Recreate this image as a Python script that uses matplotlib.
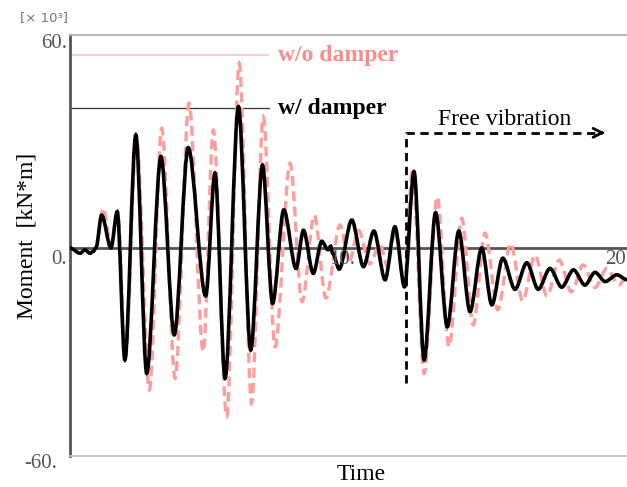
import matplotlib
matplotlib.use("Agg")
import matplotlib.pyplot as plt
from matplotlib.path import Path
from matplotlib.patches import PathPatch

# peaks / troughs (time, moment in 10^3 kN*m)
t_damper = [0, 0.37, 0.55, 0.73, 0.85, 0.95, 1.16, 1.50, 1.73, 2.01, 2.41, 2.81, 3.33, 3.82,
            4.33, 4.97, 5.31, 5.68, 6.17, 6.62, 7.05, 7.42, 7.83, 8.28, 8.55, 8.91, 9.22,
            9.45, 9.55, 9.62, 9.86, 10.32, 10.75, 11.13, 11.54, 11.90, 12.25, 12.60, 12.97,
            13.39, 13.82, 14.24, 14.65, 15.08, 15.45, 15.85, 16.30, 16.73, 17.15, 17.58,
            18.01, 18.44, 18.86, 19.23, 19.60, 20.03, 20.4]
m_damper = [0, -1.5, -0.5, -1.5, -1.0, 0, 9.3, 0, 10.3, -31.7, 32.0, -35.5, 25.9, -24.6,
            28.4, -13.6, 21.2, -36.9, 40.0, -28.9, 23.5, -15.7, 10.8, -5.8, 5.0, -7.2, 1.9,
            -0.5, 0.5, -1.5, -6.0, 7.9, -5.3, 4.8, -9.0, 6.0, -11.0, 21.6, -31.7,
            10.0, -22.3, 4.8, -18.0, 0, -16.1, -2.9, -11.7, -4.2, -11.7, -5.8,
            -11.1, -6.2, -10.5, -6.9, -9.5, -7.6, -9.0]

t_nodamper = [0, 0.37, 0.55, 0.73, 0.85, 0.95, 1.22, 1.50, 1.75, 2.03, 2.43, 2.91, 3.36, 3.85,
              4.36, 4.88, 5.25, 5.74, 6.20, 6.65, 7.08, 7.51, 8.06, 8.50, 8.95, 9.37, 9.89,
              10.22, 10.57, 10.98, 11.35, 11.62, 11.92, 12.25, 12.54, 12.97, 13.45, 13.88,
              14.35, 14.77, 15.20, 15.67, 16.14, 16.58, 17.03, 17.47, 17.92, 18.36, 18.80,
              19.23, 19.66, 20.10, 20.4]
m_nodamper = [0, -1.5, -0.5, -1.5, -1.0, 0, 11.3, 0.5, 10.0, -31.0, 31.5, -40.2, 33.9, -36.9,
              41.0, -29.4, 33.4, -47.8, 52.3, -44.0, 37.2, -28.0, 24.0, -15.2, 9.3, -14.2, 6.5,
              -4.0, 5.0, -4.5, 1.0, -5.0, 5.0, -10.0, 22.6, -35.5, 14.5, -28.0,
              8.4, -21.8, 4.2, -17.5, 1.3, -15.0, -2.0, -13.6, -3.4, -12.4, -4.8,
              -11.2, -5.8, -10.5, -8.0]

max_nodamper = 54.5
max_damper = 39.5
free_start = 12.3

W, H = 627, 487
fig = plt.figure(figsize=(W / 100, H / 100), dpi=100)
ax = fig.add_axes([70 / W, 1 - 456 / H, 557 / W, 421 / H])


def fx(px):
    return px / W


def fy(py):
    return 1 - py / H


def wave_path(t, m, k=0.32):
    # bezier segments between the read extrema, flat tangents at each turning point
    verts = [(t[0], m[0])]
    codes = [Path.MOVETO]
    for i in range(1, len(t)):
        dt = t[i] - t[i - 1]
        verts += [(t[i - 1] + k * dt, m[i - 1]), (t[i] - k * dt, m[i]), (t[i], m[i])]
        codes += [Path.CURVE4] * 3
    return Path(verts, codes)


pink = "#ff9c9c"
gray = "#555555"

ax.add_patch(PathPatch(wave_path(t_nodamper, m_nodamper), fill=False, edgecolor=pink, lw=2.4,
                       ls=(0, (3, 1.6)), zorder=2))
ax.add_patch(PathPatch(wave_path(t_damper, m_damper), fill=False, edgecolor="black", lw=2.6,
                       zorder=3))

ax.axhline(0, color=gray, lw=2, zorder=1)
ax.plot([0, 7.25], [max_nodamper, max_nodamper], color="#ffbcbc", lw=1.1, zorder=1)
ax.plot([0, 7.3], [max_damper, max_damper], color="#333333", lw=0.9, zorder=1)

ax.text(7.62, max_nodamper, "w/o damper", color="#ff8a8a", fontsize=17, fontweight="bold",
        family="Liberation Serif", va="center", ha="left")
ax.text(7.62, max_damper, "w/ damper", color="black", fontsize=17, fontweight="bold",
        family="Liberation Serif", va="center", ha="left")

# free vibration marker
ax.plot([free_start, free_start, 19.45], [-38.2, 32.6, 32.6], color="black", lw=2,
        ls=(0, (3, 2)), zorder=4)
ax.annotate("", xy=(19.7, 32.6), xytext=(19.3, 32.6),
            arrowprops=dict(arrowstyle="->", color="black", lw=2, mutation_scale=16))
ax.text(15.93, 36.3, "Free vibration", fontsize=17, family="Liberation Serif",
        ha="center", va="center")

ax.set_xlim(0, 20.4)
ax.set_ylim(-58.9, 60.3)
ax.set_xticks([])
ax.set_yticks([])
ax.spines["right"].set_visible(False)
ax.spines["left"].set_color(gray)
ax.spines["left"].set_linewidth(2)
ax.spines["top"].set_color("#b0b0b0")
ax.spines["top"].set_linewidth(1.3)
ax.spines["bottom"].set_color("#c0c0c0")
ax.spines["bottom"].set_linewidth(1.3)

tk = dict(fontsize=15, family="Liberation Serif", color=gray, va="center")
fig.text(fx(67), fy(44), "60.", ha="right", **tk)
fig.text(fx(67), fy(260), "0.", ha="right", **tk)
fig.text(fx(57), fy(463), "-60.", ha="right", **tk)
fig.text(fx(342), fy(260), "10.", ha="center", **tk)
fig.text(fx(626), fy(260), "20", ha="right", **tk)

fig.text(fx(44), fy(18), "[× 10³]", fontsize=9.5, color="#777777", ha="center", va="center")
fig.text(fx(27), fy(236), "Moment  [kN*m]", rotation=90, fontsize=17,
         family="Liberation Serif", ha="center", va="center")
fig.text(fx(361), fy(474), "Time", fontsize=17, family="Liberation Serif",
         ha="center", va="center")

fig.savefig("out.png", dpi=100)
